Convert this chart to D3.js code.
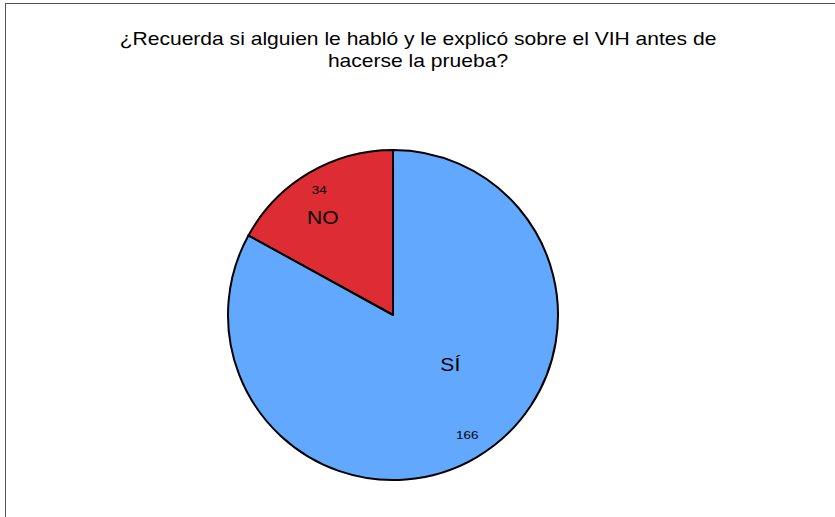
<!DOCTYPE html>
<html><head><meta charset="utf-8">
<script src="https://cdn.jsdelivr.net/npm/d3@7"></script>
<style>body{margin:0;background:#fff;}svg{display:block;font-family:"Liberation Sans",Arial,sans-serif;}</style>
</head><body>
<script>
const titleLines = ["¿Recuerda si alguien le habló y le explicó sobre el VIH antes de", "hacerse la prueba?"];
const categories = ["NO", "SÍ"];
const values = [34, 166];
const colors = ["#DE2C35", "#63A8FF"];

const W = 835, H = 517;
const SX = 1.17; // horizontal text stretch seen in reference
const svg = d3.select("body").append("svg").attr("width", W).attr("height", H);
svg.append("rect").attr("x", 5.5).attr("y", 3.5).attr("width", 860).attr("height", 560)
  .attr("fill", "none").attr("stroke", "#555").attr("stroke-width", 1);

svg.selectAll("text.title").data(titleLines).join("text").attr("class", "title")
  .attr("transform", (d, i) => `translate(418,${45 + i * 22}) scale(${SX},1)`)
  .attr("text-anchor", "middle")
  .attr("font-size", 18).attr("fill", "#000").text(d => d);

const cx = 393, cy = 315, R = 165;
const data = categories.map((c, i) => ({cat: c, val: values[i], color: colors[i]}));
const total = d3.sum(values);
const pie = d3.pie().value(d => d.val).sort(null)
  .startAngle(-2 * Math.PI * values[0] / total)
  .endAngle(2 * Math.PI - 2 * Math.PI * values[0] / total);
const arcs = pie(data);
const arc = d3.arc().innerRadius(0).outerRadius(R);
const g = svg.append("g").attr("transform", `translate(${cx},${cy})`);
g.selectAll("path").data(arcs).join("path").attr("d", arc)
  .attr("fill", d => d.data.color).attr("stroke", "#000").attr("stroke-width", 2).attr("stroke-linejoin", "round");

function pos(d, r, da) {
  const a = (d.startAngle + d.endAngle) / 2 + (da || 0);
  return [Math.sin(a) * r, -Math.cos(a) * r];
}
const catLayout = [{r: 120, da: -0.09}, {r: 76, da: -0.32}];
const valLayout = [{r: 145, da: 0.0}, {r: 141, da: -0.02}];
g.selectAll("text.cat").data(arcs).join("text").attr("class", "cat")
  .attr("transform", (d, i) => `translate(${pos(d, catLayout[i].r, catLayout[i].da)}) scale(${SX},1)`)
  .attr("dy", 6).attr("text-anchor", "middle").attr("font-size", 18).attr("fill", "#000")
  .text(d => d.data.cat);
g.selectAll("text.val").data(arcs).join("text").attr("class", "val")
  .attr("transform", (d, i) => `translate(${pos(d, valLayout[i].r, valLayout[i].da)}) scale(${SX},1)`)
  .attr("dy", 4).attr("text-anchor", "middle").attr("font-size", 11.5).attr("fill", "#000")
  .text(d => d.data.val);
</script>
</body></html>
